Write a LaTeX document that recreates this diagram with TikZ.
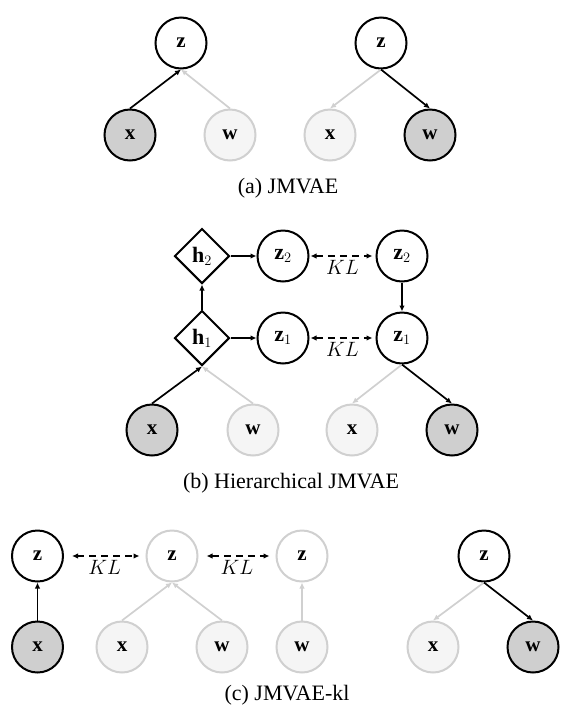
\documentclass[tikz,border=0pt]{standalone}
\usepackage{fontspec}
\setmainfont{Liberation Serif}
\usetikzlibrary{shapes.geometric,arrows.meta}
\definecolor{obsfill}{RGB}{207,207,207}
\definecolor{dimfill}{RGB}{245,245,245}
\definecolor{dimline}{RGB}{208,208,208}
\begin{document}
\begin{tikzpicture}[x=1pt,y=-1pt,
  var/.style={circle,line width=2pt,minimum size=51pt,inner sep=0pt,
    font=\fontsize{21}{22}\selectfont\bfseries},
  obs/.style={var,draw=black,fill=obsfill},
  lat/.style={var,draw=black,fill=white},
  dim/.style={var,draw=dimline,fill=dimfill},
  dimlat/.style={var,draw=dimline,fill=white},
  mvar/.style={lat,font=\fontsize{22}{24}\selectfont},
  det/.style={diamond,draw=black,fill=white,line width=2pt,aspect=1,
    minimum width=55pt,minimum height=55pt,inner sep=0pt,
    font=\fontsize{22}{24}\selectfont},
  dep/.style={line width=1.7pt,-{Latex[length=6pt,width=5.5pt]}},
  dimdep/.style={dep,draw=dimline},
  kl/.style={line width=1.7pt,dash pattern=on 7pt off 5pt,
    {Latex[length=6pt,width=5.5pt]}-{Latex[length=6pt,width=5.5pt]}},
  kllabel/.style={font=\fontsize{20}{22}\selectfont},
  caption/.style={font=\fontsize{22}{24}\selectfont}]
\useasboundingbox (0,0) rectangle (560,710);

% (a) JMVAE
\node[lat] (za1) at (181,43) {z};
\node[obs] (xa1) at (130,135) {x};
\node[dim] (wa1) at (230,135) {w};
\draw[dep] (xa1.north) -- (za1.south);
\draw[dimdep] (wa1.north) -- (za1.south);

\node[lat] (za2) at (381,43) {z};
\node[dim] (xa2) at (330,135) {x};
\node[obs] (wa2) at (430,135) {w};
\draw[dimdep] (za2.south) -- (xa2.north);
\draw[dep] (za2.south) -- (wa2.north);

\node[caption] (capa) at (288,188) {(a) JMVAE};

% (b) Hierarchical JMVAE
\node[det] (h2) at (202,256) {$\mathbf{h}_2$};
\node[det] (h1) at (202,338) {$\mathbf{h}_1$};
\node[mvar] (z2) at (283,256) {$\mathbf{z}_2$};
\node[mvar] (z1) at (283,338) {$\mathbf{z}_1$};
\node[mvar] (z2r) at (402,256) {$\mathbf{z}_2$};
\node[mvar] (z1r) at (402,338) {$\mathbf{z}_1$};
\node[obs] (xb1) at (152,430) {x};
\node[dim] (wb1) at (253,430) {w};
\node[dim] (xb2) at (352,430) {x};
\node[obs] (wb2) at (452,430) {w};

\draw[dep] (xb1.north) -- (h1.south);
\draw[dimdep] (wb1.north) -- (h1.south);
\draw[dep] (h1.north) -- (h2.south);
\draw[dep] (h1.east) -- (z1.west);
\draw[dep] (h2.east) -- (z2.west);
\draw[dep] (z2r.south) -- (z1r.north);
\draw[dimdep] (z1r.south) -- (xb2.north);
\draw[dep] (z1r.south) -- (wb2.north);
\draw[kl,shorten <=1pt,shorten >=3pt] (z2) -- (z2r)
  node[kllabel,midway,below=0pt] (klb2) {$KL$};
\draw[kl,shorten <=1pt,shorten >=3pt] (z1) -- (z1r)
  node[kllabel,midway,below=0pt] (klb1) {$KL$};

\node[caption] (capb) at (291,483) {(b) Hierarchical JMVAE};

% (c) JMVAE-kl
\node[lat] (zc1) at (37.5,556) {z};
\node[obs] (xc1) at (37.5,647) {x};
\draw[dep] (xc1.north) -- (zc1.south);

\node[dimlat] (zc2) at (172,556) {z};
\node[dim] (xc2) at (122,647) {x};
\node[dim] (wc2) at (222,647) {w};
\draw[dimdep] (xc2.north) -- (zc2.south);
\draw[dimdep] (wc2.north) -- (zc2.south);

\node[dimlat] (zc3) at (302,556) {z};
\node[dim] (wc3) at (302,647) {w};
\draw[dimdep] (wc3.north) -- (zc3.south);

\draw[kl,shorten <=8pt,shorten >=6pt] (zc1) -- (zc2)
  node[kllabel,midway,below=0pt] (klc1) {$KL$};
\draw[kl,shorten <=8pt,shorten >=6pt] (zc2) -- (zc3)
  node[kllabel,midway,below=0pt] (klc2) {$KL$};

\node[lat] (zc4) at (484,556) {z};
\node[dim] (xc4) at (433,647) {x};
\node[obs] (wc4) at (533,647) {w};
\draw[dimdep] (zc4.south) -- (xc4.north);
\draw[dep] (zc4.south) -- (wc4.north);

\node[caption] (capc) at (287,695) {(c) JMVAE-kl};
\end{tikzpicture}
\end{document}
